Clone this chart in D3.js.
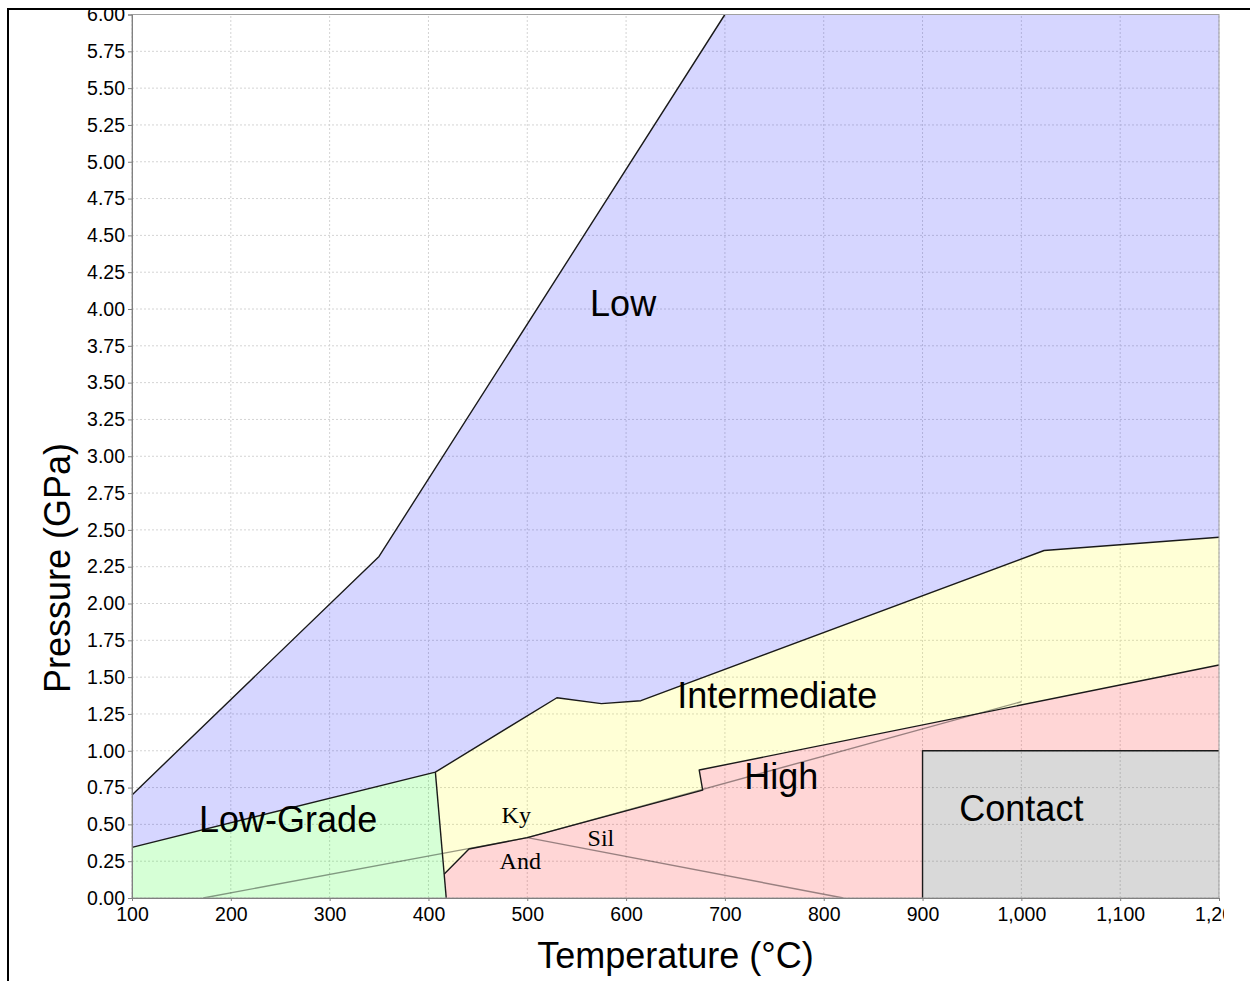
<!DOCTYPE html>
<html>
<head>
<meta charset="utf-8">
<script src="https://cdn.jsdelivr.net/npm/d3@7"></script>
<style>
  body { margin: 0; background: #fff; }
  svg { display: block; font-family: "Liberation Sans", Arial, sans-serif; }
</style>
</head>
<body>
<svg id="chart" width="1250" height="981"></svg>
<script>
// tick values
var tempTicks = [100, 200, 300, 400, 500, 600, 700, 800, 900, 1000, 1100, 1200];
var pressTicks = [0, 0.25, 0.5, 0.75, 1, 1.25, 1.5, 1.75, 2, 2.25, 2.5, 2.75, 3,
    3.25, 3.5, 3.75, 4, 4.25, 4.5, 4.75, 5, 5.25, 5.5, 5.75, 6];

// facies regions, [temperature C, pressure GPa]
var lowRegion = [[100, 0.70], [350, 2.32], [700, 6.0], [1200, 6.0], [1200, 2.45], [1023, 2.36],
    [615, 1.34], [575, 1.32], [530, 1.36], [407, 0.855], [100, 0.344]];
var lowGradeRegion = [[100, 0], [100, 0.344], [407, 0.855], [416, 0.163], [418, 0]];
var intermediateRegion = [[407, 0.855], [530, 1.36], [575, 1.32], [615, 1.34], [1023, 2.36],
    [1200, 2.45], [1200, 1.582], [674, 0.869], [677.5, 0.733], [500, 0.41], [441, 0.333], [416, 0.163]];
var highRegion = [[418, 0], [416, 0.163], [441, 0.333], [500, 0.41], [677.5, 0.733], [674, 0.869],
    [1200, 1.582], [1200, 1.0], [900, 1.0], [900, 0]];
var contactRegion = [[900, 0], [900, 1.0], [1200, 1.0], [1200, 0]];

// region outlines
var lowUpper = [[100, 0.70], [350, 2.32], [700, 6.0]];
var lowLower = [[100, 0.344], [407, 0.855], [530, 1.36], [575, 1.32], [615, 1.34], [1023, 2.36], [1200, 2.45]];
var gradeEdge = [[407, 0.855], [418, 0]];
var highUpper = [[416, 0.163], [441, 0.333], [500, 0.41], [677.5, 0.733], [674, 0.869], [1200, 1.582]];
var contactEdge = [[900, 0], [900, 1.0], [1200, 1.0]];

// aluminosilicate phase lines
var andKy = [[172, 0], [500, 0.41]];
var kySil = [[500, 0.41], [1000, 1.333]];
var andSil = [[500, 0.41], [820, 0]];

var regionLabels = [
    {text: "Low", t: 597, p: 4.04},
    {text: "Intermediate", t: 753, p: 1.38},
    {text: "High", t: 757, p: 0.83},
    {text: "Contact", t: 1000, p: 0.613},
    {text: "Low-Grade", t: 258, p: 0.536}
];
var phaseLabels = [
    {text: "Ky", t: 474, p: 0.507},
    {text: "Sil", t: 561, p: 0.353},
    {text: "And", t: 472, p: 0.197}
];

var svg = d3.select("#chart");

svg.append("defs").append("clipPath")
    .attr("id", "crop")
    .append("rect")
    .attr("x", 10).attr("y", 10)
    .attr("width", 1214).attr("height", 971);

var g = svg.append("g").attr("clip-path", "url(#crop)");

var x = d3.scaleLinear().domain([100, 1200]).range([132, 1219]);
var y = d3.scaleLinear().domain([0, 6]).range([898, 14.5]);

var line = d3.line()
    .x(function(d) { return x(d[0]); })
    .y(function(d) { return y(d[1]); });

// grid
g.append("g").selectAll("line")
    .data(tempTicks)
    .enter().append("line")
    .attr("x1", function(d) { return x(d); })
    .attr("x2", function(d) { return x(d); })
    .attr("y1", y(0))
    .attr("y2", y(6))
    .attr("stroke", "#d4d4d4")
    .attr("stroke-dasharray", "2,2");

g.append("g").selectAll("line")
    .data(pressTicks)
    .enter().append("line")
    .attr("x1", x(100))
    .attr("x2", x(1200))
    .attr("y1", function(d) { return y(d); })
    .attr("y2", function(d) { return y(d); })
    .attr("stroke", "#d4d4d4")
    .attr("stroke-dasharray", "2,2");

// filled regions
var regions = [
    {pts: lowRegion, color: "#0000ff", op: 0.16},
    {pts: lowGradeRegion, color: "#00ff00", op: 0.16},
    {pts: intermediateRegion, color: "#ffff00", op: 0.16},
    {pts: highRegion, color: "#ff0000", op: 0.16},
    {pts: contactRegion, color: "#404040", op: 0.2}
];

g.append("g").selectAll("path")
    .data(regions)
    .enter().append("path")
    .attr("d", function(d) { return line(d.pts) + "Z"; })
    .attr("fill", function(d) { return d.color; })
    .attr("fill-opacity", function(d) { return d.op; });

// phase lines
g.append("g").selectAll("path")
    .data([andKy, kySil, andSil])
    .enter().append("path")
    .attr("d", line)
    .attr("fill", "none")
    .attr("stroke", "#000")
    .attr("stroke-opacity", 0.4)
    .attr("stroke-width", 1.4);

// outlines
g.append("g").selectAll("path")
    .data([lowUpper, lowLower, gradeEdge, highUpper, contactEdge])
    .enter().append("path")
    .attr("d", line)
    .attr("fill", "none")
    .attr("stroke", "#1a1a1a")
    .attr("stroke-width", 1.4)
    .attr("stroke-linejoin", "round");

// plot outline
g.append("rect")
    .attr("x", x(100)).attr("y", y(6))
    .attr("width", x(1200) - x(100))
    .attr("height", y(0) - y(6))
    .attr("fill", "none")
    .attr("stroke", "#a0a0a0");

// axes
var xAxis = g.append("g")
    .attr("transform", "translate(0," + y(0) + ")")
    .call(d3.axisBottom(x).tickValues(tempTicks).tickFormat(d3.format(",")).tickSize(3).tickPadding(6));

var yAxis = g.append("g")
    .attr("transform", "translate(" + x(100) + ",0)")
    .call(d3.axisLeft(y).tickValues(pressTicks).tickFormat(d3.format(".2f")).tickSize(4).tickPadding(3));

[xAxis, yAxis].forEach(function(a) {
    a.select(".domain").attr("stroke", "#808080");
    a.selectAll(".tick line").attr("stroke", "#808080");
    a.selectAll("text")
        .attr("fill", "#000")
        .style("font-size", "19.5px")
        .style("font-family", "'Liberation Sans', Arial, sans-serif");
});

// region labels
g.append("g").selectAll("text")
    .data(regionLabels)
    .enter().append("text")
    .attr("x", function(d) { return x(d.t); })
    .attr("y", function(d) { return y(d.p); })
    .attr("dy", "0.36em")
    .attr("text-anchor", "middle")
    .style("font-size", "36px")
    .text(function(d) { return d.text; });

g.append("g").selectAll("text")
    .data(phaseLabels)
    .enter().append("text")
    .attr("x", function(d) { return x(d.t); })
    .attr("y", function(d) { return y(d.p); })
    .style("font-family", "'Liberation Serif', 'Times New Roman', serif")
    .style("font-size", "24px")
    .text(function(d) { return d.text; });

// axis titles
g.append("text")
    .attr("x", (x(100) + x(1200)) / 2)
    .attr("y", 968)
    .attr("text-anchor", "middle")
    .style("font-size", "36px")
    .text("Temperature (°C)");

g.append("text")
    .attr("transform", "translate(70,568) rotate(-90)")
    .attr("text-anchor", "middle")
    .style("font-size", "36px")
    .text("Pressure (GPa)");

// frame edges
svg.append("line")
    .attr("x1", 7).attr("x2", 1250)
    .attr("y1", 9).attr("y2", 9)
    .attr("stroke", "#000").attr("stroke-width", 2);
svg.append("line")
    .attr("x1", 8).attr("x2", 8)
    .attr("y1", 8).attr("y2", 981)
    .attr("stroke", "#000").attr("stroke-width", 2);
</script>
</body>
</html>
